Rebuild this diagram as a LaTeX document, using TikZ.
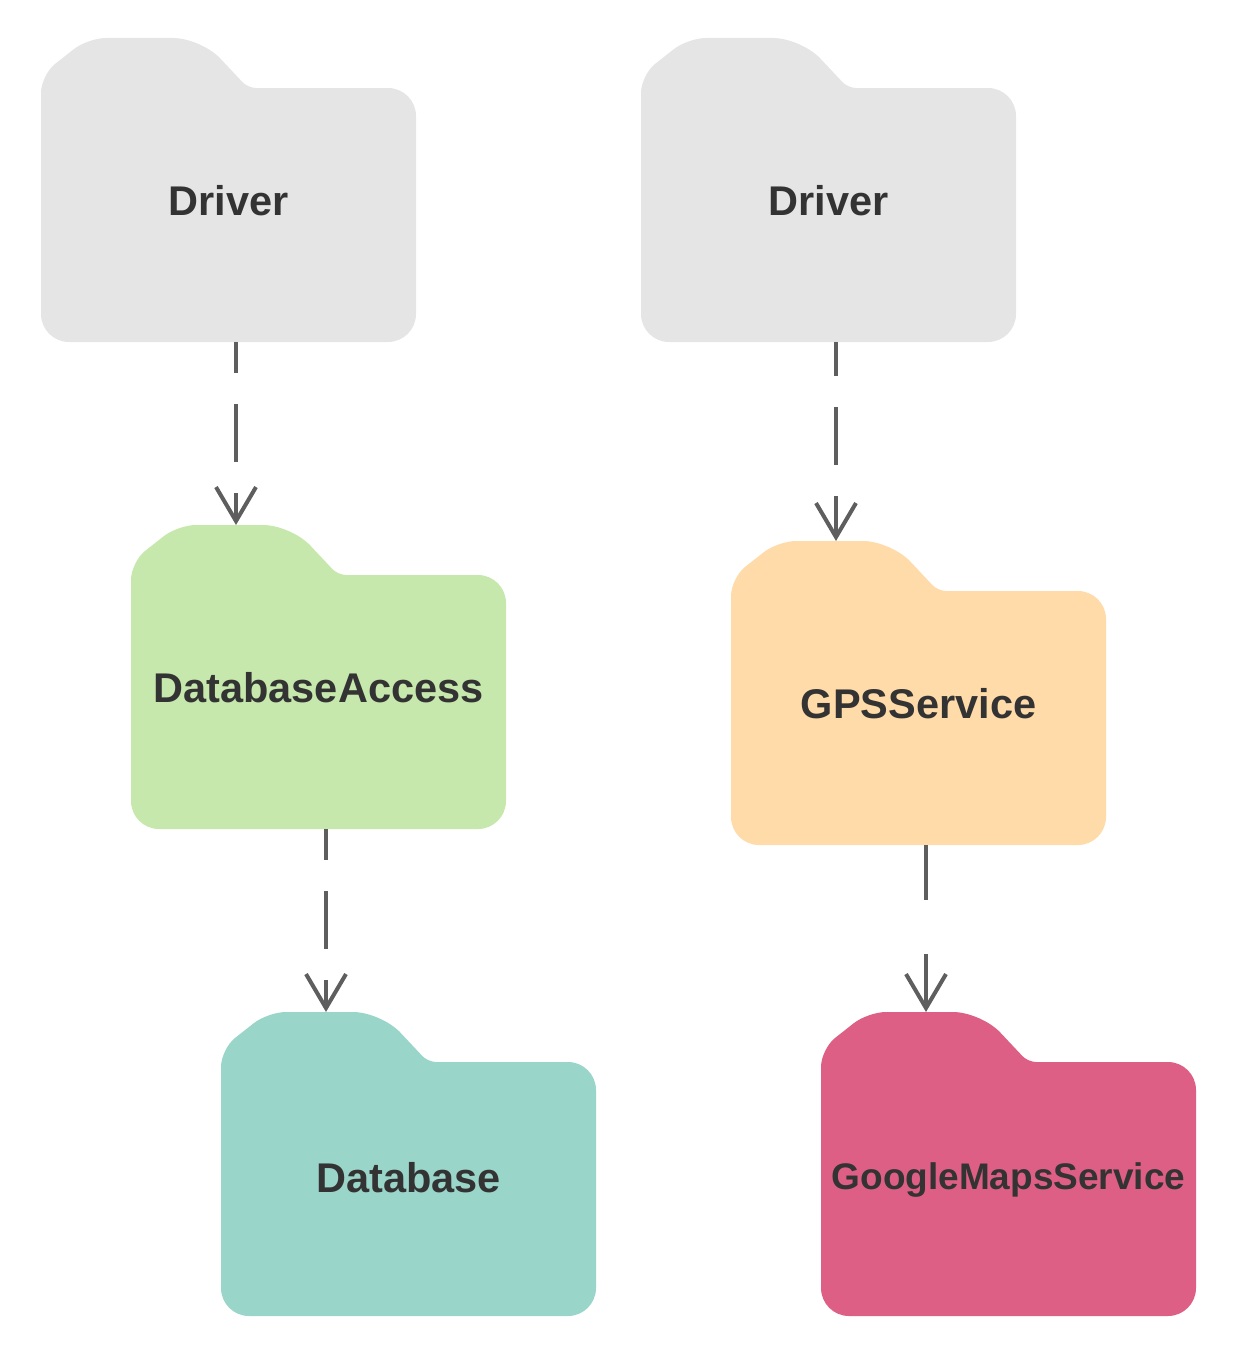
\documentclass[tikz,border=0pt]{standalone}
\usepackage{fontspec}
\setmainfont{Liberation Sans}
\usetikzlibrary{arrows.meta}
\definecolor{drvgrey}{HTML}{E5E5E5}
\definecolor{accgreen}{HTML}{C7E8AC}
\definecolor{gpsorange}{HTML}{FFDBA9}
\definecolor{dbteal}{HTML}{9AD5CA}
\definecolor{mapspink}{HTML}{DE5F85}
\definecolor{labelgrey}{HTML}{333333}
\definecolor{lineg}{HTML}{5E5E5E}
\tikzset{pkglabel/.style={anchor=base, text=labelgrey, font=\fontsize{41.5}{46}\selectfont\bfseries},
  dep/.style={draw=lineg, line width=4pt, dash pattern=on 58pt off 31pt,
    -{Straight Barb[length=34pt, width=40pt]}}}
% folder: name, left, top, fill, label
\newcommand{\pkgfolder}[5]{%
\fill[#4, rounded corners=28pt] (#2,#3+304) [rounded corners=18pt] -- (#2,#3+37) -- (#2+47,#3)
  [rounded corners=28pt] -- (#2+160,#3)
  [rounded corners=8pt] -- (#2+207,#3+50) [rounded corners=28pt] -- (#2+375,#3+50) -- (#2+375,#3+304) -- cycle;
\node[pkglabel] (#1) at (#2+187.5,#3+177) {#5};
\coordinate (#1-top) at (#2+195,#3);
\coordinate (#1-bot) at (#2+195,#3+304);}
\begin{document}
\begin{tikzpicture}[x=1pt, y=-1pt]
\useasboundingbox (0,0) rectangle (1249,1346);
\pkgfolder{drvA}{41}{38}{drvgrey}{Driver}
\pkgfolder{drvB}{641}{38}{drvgrey}{Driver}
\pkgfolder{dbacc}{131}{525}{accgreen}{DatabaseAccess}
\pkgfolder{gps}{731}{541}{gpsorange}{GPSService}
\pkgfolder{db}{221}{1012}{dbteal}{\raisebox{-3pt}{Database}}
\pkgfolder{maps}{821}{1012}{mapspink}{\fontsize{37}{42}\selectfont GoogleMapsService}
% dependencies
\draw[dep, dash phase=27pt] (drvA-bot) -- (drvA-bot |- dbacc-top);
\draw[dep, dash phase=24pt] (drvB-bot) -- (drvB-bot |- gps-top);
\draw[dep, dash phase=27pt] (dbacc-bot) -- (dbacc-bot |- db-top);
\draw[dep, dash pattern=on 55pt off 54pt] (gps-bot) -- (gps-bot |- maps-top);
\end{tikzpicture}
\end{document}
